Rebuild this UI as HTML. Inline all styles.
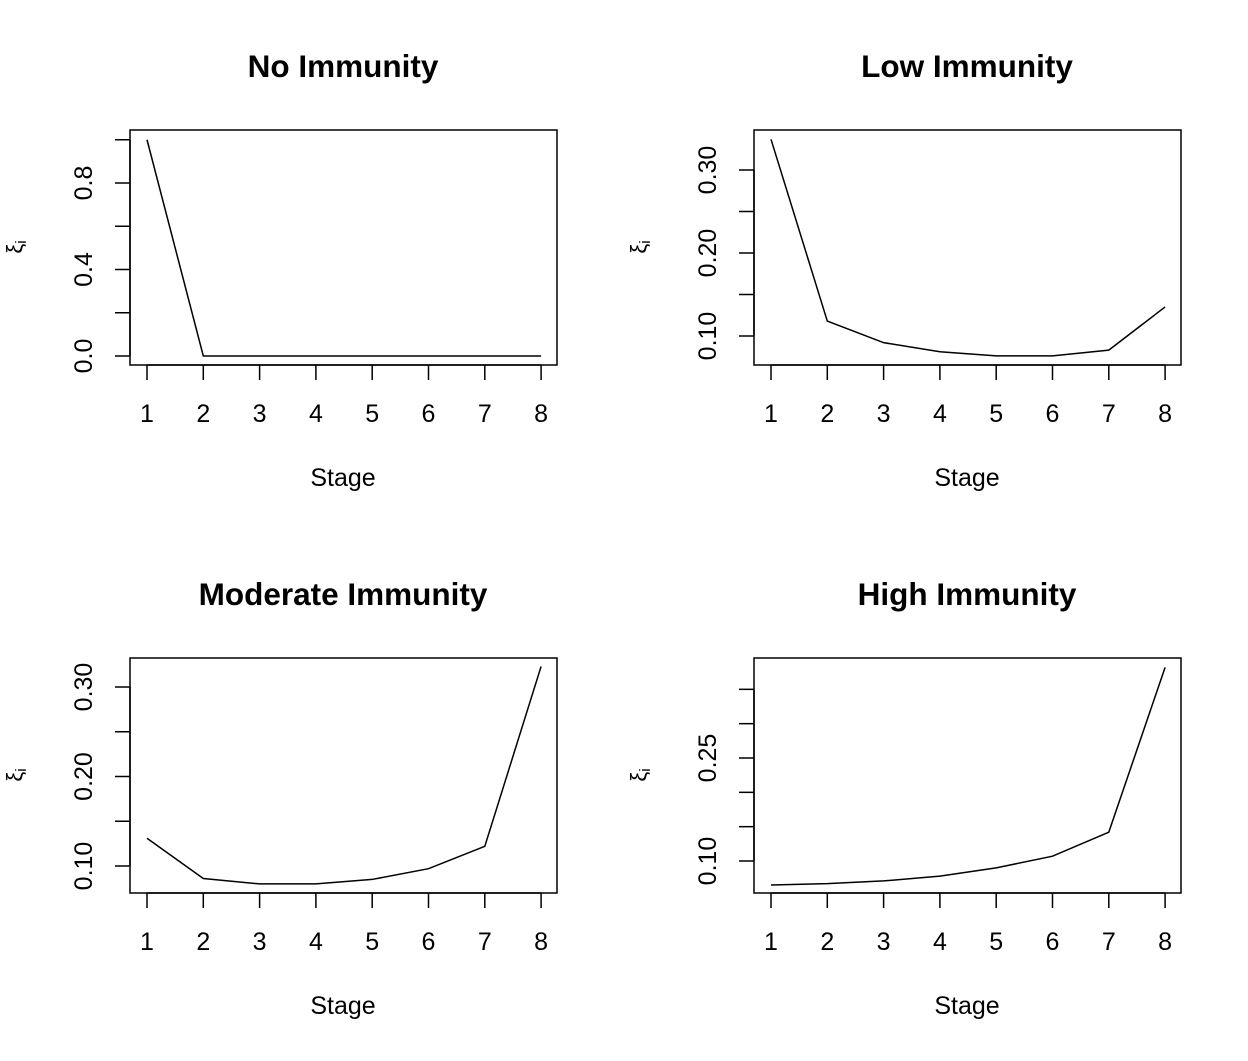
<!DOCTYPE html>
<html><head><meta charset="utf-8"><style>
body{margin:0;background:#fff}
svg text{font-family:"Liberation Sans",Arial,sans-serif;fill:#000}
</style></head><body>
<svg id="c" width="1248" height="1056" xmlns="http://www.w3.org/2000/svg"></svg>
<script>
const stages=[1,2,3,4,5,6,7,8];
const titles=["No Immunity","Low Immunity","Moderate Immunity","High Immunity"];
const noImm=[1.0,0,0,0,0,0,0,0];
const lowImm=[0.337,0.118,0.092,0.081,0.076,0.076,0.083,0.135];
const modImm=[0.131,0.086,0.080,0.080,0.085,0.097,0.122,0.323];
const highImm=[0.065,0.067,0.071,0.078,0.090,0.107,0.142,0.382];
const yTicks1=[0,0.2,0.4,0.6,0.8,1.0], yLabels1=["0.0","","0.4","","0.8",""];
const yTicks2=[0.10,0.15,0.20,0.25,0.30], yLabels2=["0.10","","0.20","","0.30"];
const yTicks3=[0.10,0.15,0.20,0.25,0.30], yLabels3=["0.10","","0.20","","0.30"];
const yTicks4=[0.10,0.15,0.20,0.25,0.30,0.35], yLabels4=["0.10","","","0.25","",""];
const svg=document.getElementById('c');
const NS="http://www.w3.org/2000/svg";
function mk(tag,attrs,parent){const e=document.createElementNS(NS,tag);for(const k in attrs)e.setAttribute(k,attrs[k]);(parent||svg).appendChild(e);return e;}
const panels=[
 {x0:130,y0:130,d:noImm,yt:yTicks1,yl:yLabels1,v0:0,p0:356,v1:0.8,p1:183},
 {x0:754,y0:130,d:lowImm,yt:yTicks2,yl:yLabels2,v0:0.1,p0:336,v1:0.3,p1:170},
 {x0:130,y0:658,d:modImm,yt:yTicks3,yl:yLabels3,v0:0.1,p0:866,v1:0.3,p1:687},
 {x0:754,y0:658,d:highImm,yt:yTicks4,yl:yLabels4,v0:0.1,p0:861,v1:0.25,p1:758}
];
panels.forEach((p,i)=>{
 const g=mk('g',{});
 
 
 const xs=v=>p.x0+17+(v-1)*56.3;
 const ys=v=>p.p0+(v-p.v0)*(p.p1-p.p0)/(p.v1-p.v0);
 const t=mk('text',{x:p.x0+213,y:p.y0-53,'text-anchor':'middle','font-size':'31.5','font-weight':'bold'},g);t.textContent=titles[i];
 
 const b=mk('rect',{x:p.x0,y:p.y0,width:427,height:235,fill:'none',stroke:'#000','stroke-width':1.5},g);
 
 const bot=p.y0+235;
 mk('line',{x1:xs(1),x2:xs(8),y1:bot,y2:bot,stroke:'#000','stroke-width':1.5},g);
 stages.forEach(s=>{
  mk('line',{x1:xs(s),x2:xs(s),y1:bot,y2:bot+15,stroke:'#000','stroke-width':1.5},g);
  const tl=mk('text',{x:xs(s),y:bot+57,'text-anchor':'middle','font-size':'25'},g);tl.textContent=s;
  
 });
 const xt=mk('text',{x:p.x0+213,y:bot+121,'text-anchor':'middle','font-size':'25'},g);xt.textContent='Stage';
 
 const yA=p.yt[0],yB=p.yt[p.yt.length-1];
 mk('line',{x1:p.x0,x2:p.x0,y1:ys(yA),y2:ys(yB),stroke:'#000','stroke-width':1.5},g);
 p.yt.forEach((v,k)=>{
  const y=ys(v);
  mk('line',{x1:p.x0-15,x2:p.x0,y1:y,y2:y,stroke:'#000','stroke-width':1.5},g);
  if(p.yl[k]){const yl=mk('text',{x:0,y:0,'text-anchor':'middle','font-size':'25',transform:`translate(${p.x0-38},${y}) rotate(-90)`},g);yl.textContent=p.yl[k];
   }
 });
 const ya=mk('text',{x:0,y:0,'text-anchor':'middle','font-size':'22',transform:`translate(${p.x0-108},${p.y0+117}) rotate(-90)`},g);
 ya.innerHTML='ξ<tspan font-size="15" dy="4">i</tspan>';
 
 const pts=p.d.map((v,k)=>xs(stages[k])+','+ys(v)).join(' ');
 const l=mk('polyline',{points:pts,fill:'none',stroke:'#000','stroke-width':1.5},g);
 
});
</script>
</body></html>
